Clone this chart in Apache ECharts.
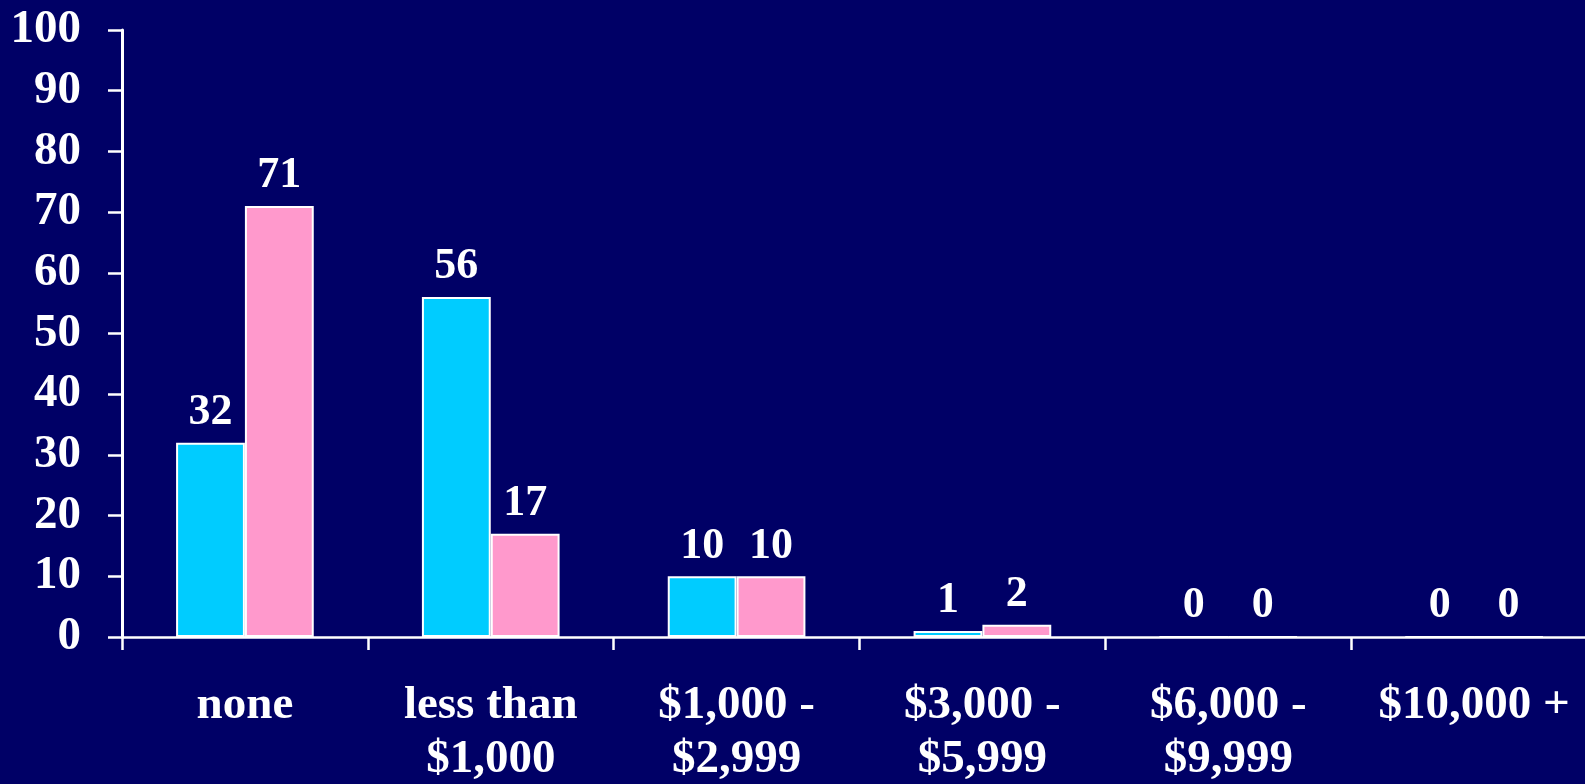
<!DOCTYPE html>
<html>
<head>
<meta charset="utf-8">
<script src="https://cdn.jsdelivr.net/npm/echarts@6/dist/echarts.min.js"></script>
<style>
html,body{margin:0;padding:0;background:#000066;}
#c{width:1585px;height:784px;}
</style>
</head>
<body>
<div id="c"></div>
<script>
const categories = ['none', 'less than\n$1,000', '$1,000 -\n$2,999', '$3,000 -\n$5,999', '$6,000 -\n$9,999', '$10,000 +'];
const seriesA = [32, 56, 10, 1, 0, 0];
const seriesB = [71, 17, 10, 2, 0, 0];
const yTicks = { min: 0, max: 100, interval: 10 };

const FONT = '"Liberation Serif", "Times New Roman", serif';
const chart = echarts.init(document.getElementById('c'), null, { renderer: 'canvas' });
const labelStyle = {
  show: true, position: 'top', distance: 8,
  color: '#ffffff', fontFamily: FONT, fontWeight: 'bold', fontSize: 44
};
chart.setOption({
  backgroundColor: '#000066',
  animation: false,
  grid: { left: 122, width: 1475, top: 30, bottom: 147, containLabel: false, outerBoundsMode: 'none' },
  xAxis: {
    type: 'category',
    data: categories,
    boundaryGap: true,
    axisLine: { show: true, lineStyle: { color: '#ffffff', width: 2.5 } },
    axisTick: { show: true, length: 13, lineStyle: { color: '#ffffff', width: 2.5 } },
    axisLabel: {
      color: '#ffffff', fontFamily: FONT, fontWeight: 'bold', fontSize: 47,
      lineHeight: 54, margin: 42, interval: 0
    },
    splitLine: { show: false }
  },
  yAxis: {
    type: 'value',
    min: yTicks.min, max: yTicks.max, interval: yTicks.interval,
    axisLine: { show: true, lineStyle: { color: '#ffffff', width: 3 } },
    axisTick: { show: true, length: 14, lineStyle: { color: '#ffffff', width: 2.5 } },
    axisLabel: {
      color: '#ffffff', fontFamily: FONT, fontWeight: 'bold', fontSize: 47, margin: 41
    },
    splitLine: { show: false }
  },
  series: [
    {
      type: 'bar', data: seriesA, barWidth: '28%', barGap: '0%',
      itemStyle: { color: '#00CCFF', borderColor: '#ffffff', borderWidth: 2 },
      label: labelStyle
    },
    {
      type: 'bar', data: seriesB, barWidth: '28%', barGap: '0%',
      itemStyle: { color: '#FF99CC', borderColor: '#ffffff', borderWidth: 2 },
      label: labelStyle
    }
  ]
});
</script>
</body>
</html>
